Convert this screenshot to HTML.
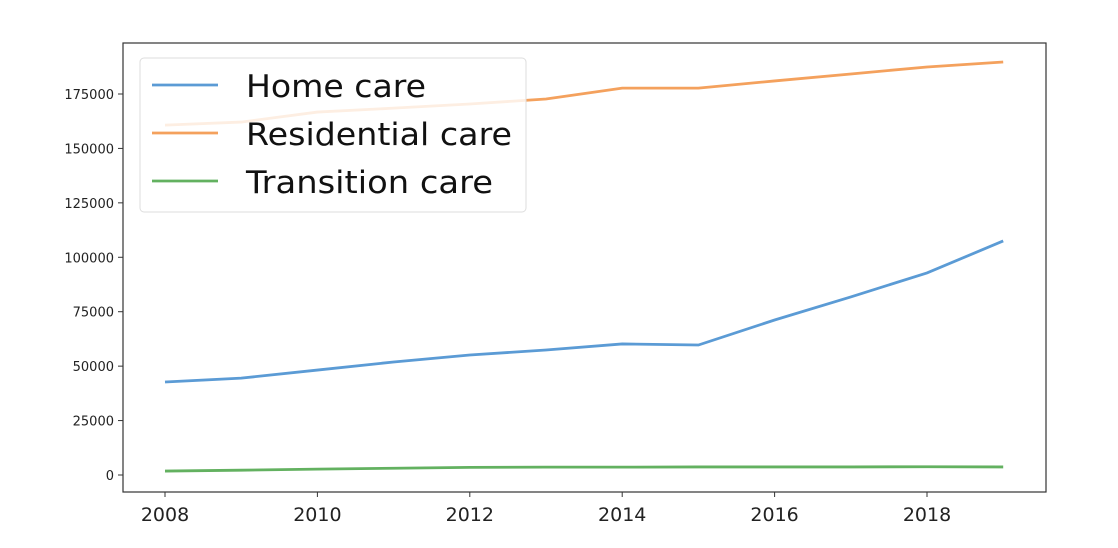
<!DOCTYPE html>
<html><head><meta charset="utf-8"><style>
body{margin:0;background:#fff;}
svg{display:block;font-family:"DejaVu Sans","Liberation Sans",sans-serif;}
</style></head><body>
<svg id="chart" width="1118" height="548"></svg>
<script>
const years=[2008,2009,2010,2011,2012,2013,2014,2015,2016,2017,2018,2019];
const homeCare=[42700,44500,48200,51900,55100,57400,60200,59700,71200,81800,92800,107500];
const residentialCare=[160700,162100,166700,168500,170400,172700,177700,177700,181000,184200,187400,189700];
const transitionCare=[1800,2200,2700,3100,3500,3600,3600,3700,3700,3700,3800,3700];
const yTicks=[0,25000,50000,75000,100000,125000,150000,175000];
const xTicks=[2008,2010,2012,2014,2016,2018];
const legendNames=['Home care','Residential care','Transition care'];
const NS="http://www.w3.org/2000/svg";
const svg=document.getElementById('chart');
const L=123,R=1046,T=43,B=492;
function xs(v){return 165+(v-2008)*76.2;}
function ys(v){return 475-v/25000*54.43;}
function mk(tag,attrs,parent){const e=document.createElementNS(NS,tag);for(const k in attrs)e.setAttribute(k,attrs[k]);(parent||svg).appendChild(e);return e;}
const frame=mk('rect',{x:L,y:T,width:R-L,height:B-T,fill:'none',stroke:'#333','stroke-width':1.2});


yTicks.forEach(v=>{
  const y=ys(v);
  const t=mk('line',{x1:L-5,x2:L,y1:y,y2:y,stroke:'#333'});
  
  
  const tx=mk('text',{x:L-9,y:y+5,'text-anchor':'end','font-size':13,fill:'#222'});
  tx.textContent=v;
  
  
});
xTicks.forEach(v=>{
  const x=xs(v);
  const t=mk('line',{x1:x,x2:x,y1:B,y2:B+5,stroke:'#333'});
  
  
  const tx=mk('text',{x:x,y:B+29,'text-anchor':'middle','font-size':19,fill:'#222'});
  tx.textContent=v;
  
  
});
const series=[['home-care-line',homeCare,'#5b9bd5'],['residential-care-line',residentialCare,'#f4a15d'],['transition-care-line',transitionCare,'#63b160']];
series.forEach(([n,d,c])=>{
  const p=mk('polyline',{points:d.map((v,i)=>xs(years[i])+','+ys(v)).join(' '),fill:'none',stroke:c,'stroke-width':2.8});
  
  
});
const lg=mk('g',{});


mk('rect',{x:140,y:58,width:386,height:154,rx:4,fill:'#fff','fill-opacity':0.82,stroke:'#ddd'},lg);
const widths=[180,266,247];
series.forEach(([n,d,c],i)=>{
  const y=85+i*48;
  const ln=mk('line',{x1:152,x2:218,y1:y,y2:y,stroke:c,'stroke-width':2.8},lg);
  
  
  const tx=mk('text',{x:246,y:y+12,'font-size':31,fill:'#111',textLength:widths[i],lengthAdjust:'spacingAndGlyphs'},lg);
  tx.textContent=legendNames[i];
  
  
});
</script>
</body></html>
